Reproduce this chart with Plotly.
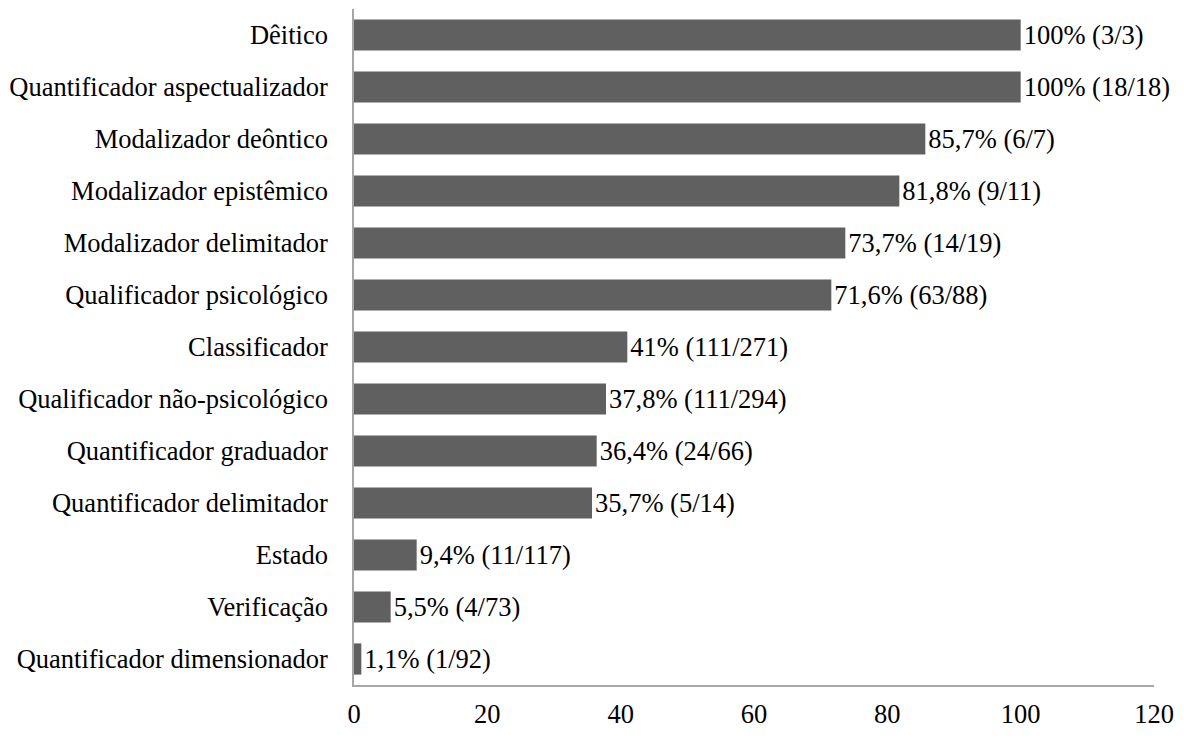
import plotly.graph_objects as go

categories = [
    "Dêitico",
    "Quantificador aspectualizador",
    "Modalizador deôntico",
    "Modalizador epistêmico",
    "Modalizador delimitador",
    "Qualificador psicológico",
    "Classificador",
    "Qualificador não-psicológico",
    "Quantificador graduador",
    "Quantificador delimitador",
    "Estado",
    "Verificação",
    "Quantificador dimensionador",
]
percent = [100, 100, 85.7, 81.8, 73.7, 71.6, 41, 37.8, 36.4, 35.7, 9.4, 5.5, 1.1]
counts = ["3/3", "18/18", "6/7", "9/11", "14/19", "63/88", "111/271", "111/294",
          "24/66", "5/14", "11/117", "4/73", "1/92"]
x_ticks = [0, 20, 40, 60, 80, 100, 120]

labels = [f"{str(p).replace('.', ',')}% ({c})" for p, c in zip(percent, counts)]

FONT = "Liberation Serif"
FS = 26.5

fig = go.Figure(go.Bar(
    y=categories,
    x=percent,
    orientation="h",
    marker=dict(color="#606060", line=dict(width=0)),
    width=0.6,
    text=labels,
    textposition="outside",
    textfont=dict(family=FONT, size=FS, color="#000000"),
    constraintext="none",
    cliponaxis=False,
))

fig.update_layout(
    width=1184, height=744,
    margin=dict(l=354, r=30, t=9, b=59),
    paper_bgcolor="white", plot_bgcolor="white",
    font=dict(family=FONT, size=FS, color="#000000"),
    showlegend=False,
    xaxis=dict(
        range=[0, 120], tickvals=x_ticks, ticks="", showgrid=False,
        zeroline=False, showline=True, linecolor="#a6a6a6", linewidth=1.5,
        ticklabelstandoff=4, fixedrange=True,
    ),
    yaxis=dict(
        categoryorder="array", categoryarray=categories, autorange="reversed",
        ticks="", showgrid=False, zeroline=False, showline=True,
        linecolor="#a6a6a6", linewidth=1.5, ticklabelstandoff=19,
    ),
)

fig.write_html("out.html")
